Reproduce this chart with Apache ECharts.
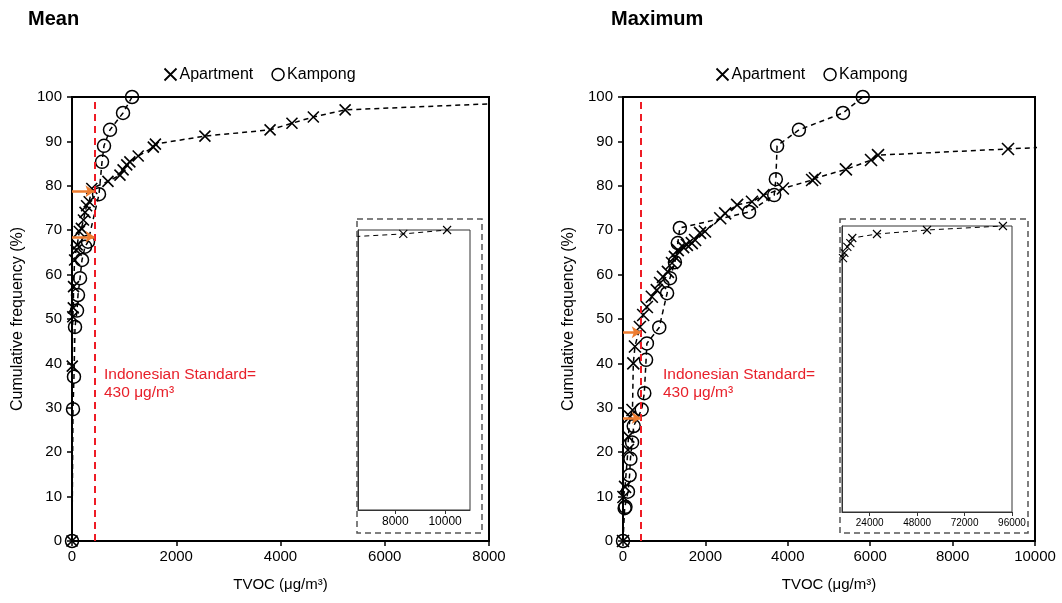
<!DOCTYPE html>
<html>
<head>
<meta charset="utf-8">
<script src="https://cdn.jsdelivr.net/npm/echarts@6/dist/echarts.min.js"></script>
<style>html,body{margin:0;padding:0;background:#fff}#c{width:1062px;height:603px}</style>
</head>
<body>
<div id="c"></div>
<script>
// ---- data (TVOC µg/m3 vs cumulative frequency %) ----
const leftApartmentX = [0,5,15,25,30,50,80,100,140,180,220,250,280,330,380,690,920,980,1050,1110,1270,1560,1600,2550,3800,4220,4630,5240,8320,10080];
const leftApartmentY = [0,39.4,50.5,52.5,57.3,63.3,65.5,66.7,69.7,70.4,72.3,74,75.5,76.4,79.4,81,82.4,83.6,84.7,85.4,86.7,88.7,89.4,91.2,92.6,94.1,95.5,97.1,98.6,100];
const leftKampongX = [0,19,38,58,96,115,154,192,250,307,518,576,614,729,979,1152];
const leftKampongY = [0,29.7,37,48.2,51.9,55.4,59.2,63.3,66.3,67.4,78.1,85.4,89,92.6,96.4,100];

const rightApartmentX = [0,10,50,120,130,170,230,250,290,410,490,580,700,820,900,970,1090,1190,1260,1330,1460,1550,1670,1750,1870,1990,2360,2480,2770,3130,3410,3880,4590,4660,5410,6020,6190,9345,10500,11200,12700,14200,15200,27700,53000,91400];
const rightApartmentY = [0,9.9,12.2,20.5,23.5,28,29.5,40,43.8,48.2,50.9,52.7,55,56.5,58.1,59.5,60.6,62.6,64,65.5,66.2,66.7,67.1,67.8,69.4,69.7,72.7,73.8,75.7,76.4,77.9,79.4,81.3,81.7,83.7,85.8,86.9,88.3,88.8,90.6,92.7,94,95.8,97.2,98.6,100];
const rightKampongX = [0,40,60,120,160,180,220,260,453,517,560,580,880,1070,1140,1260,1330,1380,3060,3670,3710,3740,4270,5340,5820];
const rightKampongY = [0,7.4,7.7,11.1,14.8,18.5,22.2,25.9,29.6,33.3,40.8,44.5,48.1,55.8,59.2,62.8,67.1,70.5,74.1,77.9,81.5,89,92.6,96.4,100];

const standardValue = 430;                 // Indonesian Standard
const leftArrowLevels = [78.8, 68.5];      // % at standard (mean)
const rightArrowLevels = [47, 27.7];       // % at standard (maximum)

const leftXTicks = {min: 0, max: 8000, interval: 2000};
const rightXTicks = {min: 0, max: 10000, interval: 2000};
const leftInsetRange = {min: 6500, max: 11000, labels: [8000, 10000]};
const rightInsetRange = {min: 10000, max: 96000, labels: [24000, 48000, 72000, 96000]};

const zip = (xs, ys) => xs.map((x, i) => [x, ys[i]]);
const XPATH = 'path://M0,0L10,10M10,0L0,10';
const FONT = 'Liberation Sans, Arial, sans-serif';
const plain = v => String(v);

function mainX(r, idx) {
  return {
    gridIndex: idx, type: 'value', min: r.min, max: r.max, interval: r.interval,
    name: 'TVOC (μg/m³)', nameLocation: 'middle', nameGap: 36,
    nameTextStyle: {fontSize: 15, color: '#000', fontFamily: FONT},
    axisLine: {onZero: false, lineStyle: {color: '#000', width: 2}},
    axisTick: {show: true, length: 5, lineStyle: {color: '#000', width: 1.5}},
    axisLabel: {fontSize: 15, color: '#000', margin: 8, fontFamily: FONT, formatter: plain},
    splitLine: {show: false}
  };
}
function mainY(idx) {
  return {
    gridIndex: idx, type: 'value', min: 0, max: 100, interval: 10,
    name: 'Cumulative frequency (%)', nameLocation: 'middle', nameGap: 46,
    nameTextStyle: {fontSize: 16, color: '#000', fontFamily: FONT},
    axisLine: {onZero: false, lineStyle: {color: '#000', width: 2}},
    axisTick: {show: true, length: 5, lineStyle: {color: '#000', width: 1.5}},
    axisLabel: {fontSize: 15, color: '#000', margin: 10, fontFamily: FONT, formatter: plain},
    splitLine: {show: false}
  };
}
function insetX(r, idx, fs) {
  return {
    gridIndex: idx, type: 'value', min: r.min, max: r.max,
    axisLine: {onZero: false, lineStyle: {color: '#333', width: 1}},
    axisTick: {show: true, length: 4, customValues: r.labels, lineStyle: {color: '#333'}},
    axisLabel: {fontSize: fs, color: '#000', margin: 6, customValues: r.labels, fontFamily: FONT, formatter: plain},
    splitLine: {show: false}
  };
}
function insetY(idx) {
  return {
    gridIndex: idx, type: 'value', min: 0, max: 100,
    axisLine: {onZero: false, lineStyle: {color: '#333', width: 1}},
    axisTick: {show: false}, axisLabel: {show: false}, splitLine: {show: false}
  };
}
const dashLine = {color: '#000', type: [5, 4], width: 1.5};
function aptSeries(name, data, xi, size, bw, lw) {
  return {
    name: name, type: 'line', xAxisIndex: xi, yAxisIndex: xi, data: data,
    symbol: XPATH, symbolSize: size, showAllSymbol: true, clip: true,
    itemStyle: {color: 'none', borderColor: '#000', borderWidth: bw},
    lineStyle: {color: '#000', type: [5, 4], width: lw},
    emphasis: {disabled: true}, z: 3
  };
}
function kamSeries(name, data, xi, size) {
  return {
    name: name, type: 'line', xAxisIndex: xi, yAxisIndex: xi, data: data,
    symbol: 'circle', symbolSize: size, showAllSymbol: true, clip: true,
    itemStyle: {color: 'transparent', borderColor: '#000', borderWidth: 1.5},
    lineStyle: dashLine, emphasis: {disabled: true}, z: 3
  };
}
function arrowMark(levels) {
  return {
    silent: true, symbol: ['none', 'arrow'], symbolSize: 9,
    lineStyle: {color: '#ed7d31', type: 'solid', width: 2.5},
    label: {show: false}, z: 5,
    data: levels.map(v => [{coord: [0, v]}, {coord: [standardValue, v]}])
  };
}
const redMark = {
  silent: true, symbol: 'none',
  lineStyle: {color: '#ee1c25', type: [7, 5], width: 2},
  label: {show: false},
  data: [{xAxis: standardValue}]
};

const legendData = [
  {name: 'Apartment', icon: XPATH, itemStyle: {color: 'none', borderColor: '#000', borderWidth: 1.8}},
  {name: 'Kampong', icon: 'circle', itemStyle: {color: 'transparent', borderColor: '#000', borderWidth: 1.5}}
];
function legend(left) {
  return {
    left: left, top: 61, itemWidth: 12, itemHeight: 12, itemGap: 18,
    selectedMode: false, data: legendData,
    textStyle: {fontSize: 16, color: '#000', fontFamily: FONT, padding: [0, 0, 0, -2]}
  };
}

const chart = echarts.init(document.getElementById('c'), null, {renderer: 'canvas'});
chart.setOption({
  animation: false,
  backgroundColor: '#fff',
  textStyle: {fontFamily: FONT},
  legend: [legend(157), legend(709)],
  grid: [
    {left: 72, top: 97, width: 417, height: 444, show: true, borderColor: '#000', borderWidth: 2, backgroundColor: 'transparent'},
    {left: 358, top: 230, width: 112, height: 280, show: true, borderColor: '#333', borderWidth: 1, backgroundColor: '#fff'},
    {left: 623, top: 97, width: 412, height: 444, show: true, borderColor: '#000', borderWidth: 2, backgroundColor: 'transparent'},
    {left: 842, top: 226, width: 170, height: 286, show: true, borderColor: '#333', borderWidth: 1, backgroundColor: '#fff'}
  ],
  xAxis: [mainX(leftXTicks, 0), insetX(leftInsetRange, 1, 12), mainX(rightXTicks, 2), insetX(rightInsetRange, 3, 10)],
  yAxis: [mainY(0), insetY(1), mainY(2), insetY(3)],
  series: [
    Object.assign(kamSeries('Kampong', zip(leftKampongX, leftKampongY), 0, 13), {markLine: redMark}),
    Object.assign(aptSeries('Apartment', zip(leftApartmentX, leftApartmentY), 0, 11, 1.6, 1.5), {markLine: arrowMark(leftArrowLevels)}),
    aptSeries('Apartment (inset)', zip(leftApartmentX, leftApartmentY), 1, 8, 1.1, 1),
    Object.assign(kamSeries('Kampong', zip(rightKampongX, rightKampongY), 2, 13), {markLine: redMark}),
    Object.assign(aptSeries('Apartment', zip(rightApartmentX, rightApartmentY), 2, 12, 1.6, 1.5), {markLine: arrowMark(rightArrowLevels)}),
    aptSeries('Apartment (inset)', zip(rightApartmentX, rightApartmentY), 3, 8, 1.1, 1)
  ],
  graphic: [
    {type: 'text', left: 28, top: 9, style: {text: 'Mean', font: 'bold 20px ' + FONT, fill: '#000'}},
    {type: 'text', left: 611, top: 9, style: {text: 'Maximum', font: 'bold 20px ' + FONT, fill: '#000'}},
    {type: 'text', left: 104, top: 366, style: {text: 'Indonesian Standard=\n430 μg/m³', font: '15.5px ' + FONT, fill: '#e8202a', lineHeight: 18}},
    {type: 'text', left: 663, top: 366, style: {text: 'Indonesian Standard=\n430 μg/m³', font: '15.5px ' + FONT, fill: '#e8202a', lineHeight: 18}},
    {type: 'rect', shape: {x: 357, y: 219, width: 125, height: 314}, style: {fill: 'none', stroke: '#555', lineWidth: 1.5, lineDash: [6, 4]}, z: 10},
    {type: 'rect', shape: {x: 840, y: 219, width: 188, height: 314}, style: {fill: 'none', stroke: '#555', lineWidth: 1.5, lineDash: [6, 4]}, z: 10}
  ]
});
</script>
</body>
</html>
